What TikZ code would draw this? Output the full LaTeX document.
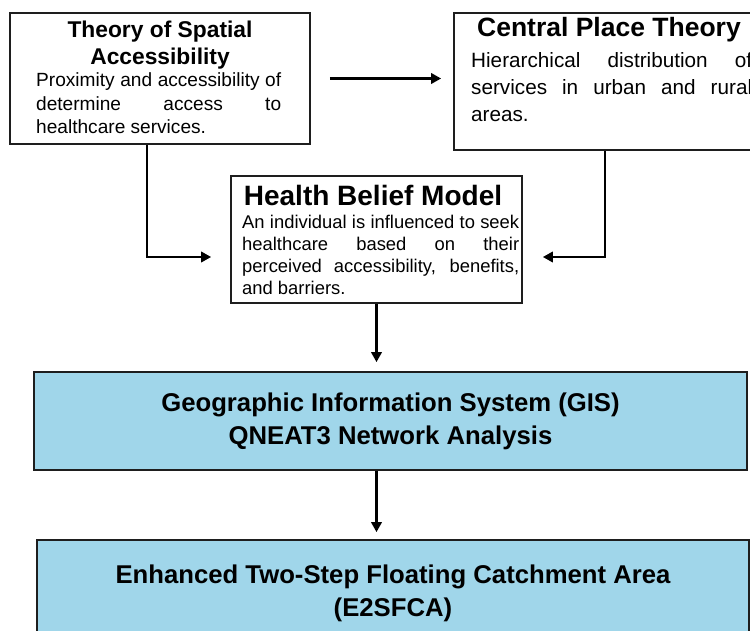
\documentclass[tikz,border=0pt]{standalone}
\usepackage{fontspec}
\setmainfont{Liberation Sans}
\usetikzlibrary{arrows.meta,positioning}
\definecolor{gisblue}{RGB}{160,214,234}
\definecolor{edgegray}{RGB}{30,30,30}
\tolerance=10000
\hyphenpenalty=10000
\exhyphenpenalty=10000
\hbadness=10000

\begin{document}
\begin{tikzpicture}
    [x=1pt, y=-1pt,
    framebox/.style={draw=edgegray, line width=1.8pt, fill=white, inner sep=0pt},
    bluebox/.style={framebox, fill=gisblue, align=center, font=\bfseries\fontsize{25.7}{33}\selectfont},
    titletext/.style={inner sep=0pt, align=center, font=\bfseries},
    bodytext/.style={inner sep=0pt, align=justify, anchor=base west},
    flow/.style={draw=black, line width=2.2pt, -{Triangle[length=10pt,width=10.5pt]}},]

    \path[use as bounding box, clip] (0,0) rectangle (750,631);

    % theory boxes
    \node[framebox, minimum width=300pt, minimum height=131pt] (spatial) at (160,78.5) {};
    \node[framebox, minimum width=314pt, minimum height=137pt] (central) at (611,81.5) {};
    \node[framebox, minimum width=291pt, minimum height=127pt] (health) at (376.5,239.5) {};

    \node[titletext, anchor=base, font=\bfseries\fontsize{22.8}{27}\selectfont] (spatialtitle) at (160,65) {Theory of Spatial\\Accessibility};
    \node[bodytext, text width=245pt, font=\fontsize{19.1}{23.5}\selectfont] (spatialbody) at (36,87)
        {Proximity and accessibility of\linebreak determine access to\linebreak healthcare services.};

    \node[titletext, anchor=base, font=\bfseries\fontsize{26.5}{30}\selectfont] (centraltitle) at (609,37) {Central Place Theory};
    \node[bodytext, text width=281pt, font=\fontsize{20.7}{27}\selectfont] (centralbody) at (471,68)
        {Hierarchical distribution of\linebreak services in urban and rural\linebreak areas.};

    \node[titletext, anchor=base, font=\bfseries\fontsize{28}{32}\selectfont] (healthtitle) at (373,206) {Health Belief Model};
    \node[bodytext, text width=277pt, font=\fontsize{18.4}{22}\selectfont] (healthbody) at (242,229)
        {An individual is influenced to seek\linebreak healthcare based on their\linebreak perceived accessibility, benefits,\linebreak and barriers.};

    % methods
    \node[bluebox, minimum width=713pt, minimum height=98pt] (gis) at (390.5,421)
        {Geographic Information System (GIS)\\QNEAT3 Network Analysis};
    \node[bluebox, minimum width=712pt, minimum height=106pt] (e2sfca) at (393,593)
        {Enhanced Two-Step Floating Catchment Area\\(E2SFCA)};

    % connectors
    \draw[flow, shorten <=19pt, shorten >=12pt] (spatial.east) -- (spatial.east -| central.west);
    \draw[flow, shorten >=19pt] ([xshift=-13pt]spatial.south) |- ([yshift=-17.5pt]health.west);
    \draw[flow, shorten >=20pt] ([xshift=-6pt]central.south) |- ([yshift=-17.5pt]health.east);
    \draw[flow, shorten >=9pt] (health.south) -- (health.south |- gis.north);
    \draw[flow, shorten >=7pt] (health.south |- gis.south) -- (health.south |- e2sfca.north);

\end{tikzpicture}
\end{document}
